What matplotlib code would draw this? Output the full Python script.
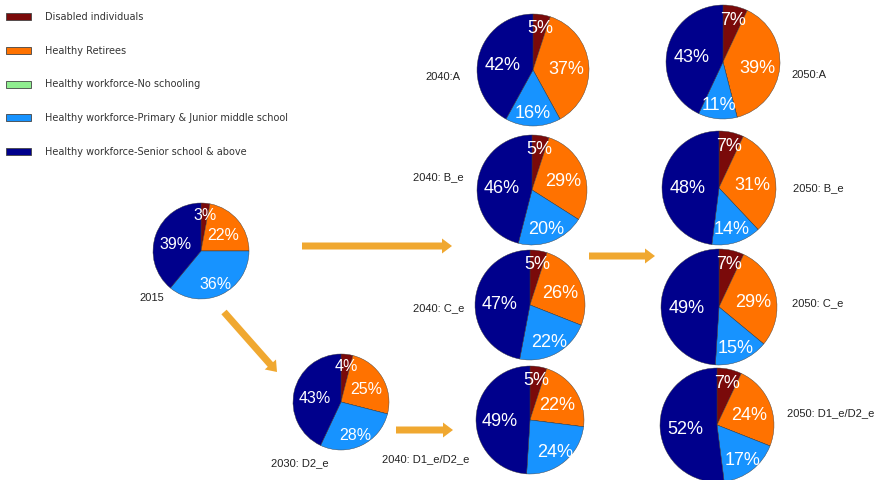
import matplotlib
matplotlib.use("Agg")
import matplotlib.pyplot as plt
from matplotlib.patches import Patch
import numpy as np

# --------------------------------------------------------------------
# DATA
# --------------------------------------------------------------------
categories = ["Disabled individuals",
              "Healthy Retirees",
              "Healthy workforce-No schooling",
              "Healthy workforce-Primary & Junior middle school",
              "Healthy workforce-Senior school & above"]
colors = ["#7a0a0a", "#ff7200", "#90ee90", "#1793ff", "#00008c"]

scenarios = ["2015", "2030: D2_e",
             "2040:A", "2040: B_e", "2040: C_e", "2040: D1_e/D2_e",
             "2050:A", "2050: B_e", "2050: C_e", "2050: D1_e/D2_e"]
disabled  = [3, 4, 5, 5, 5, 5, 7, 7, 7, 7]
retirees  = [22, 25, 37, 29, 26, 22, 39, 31, 29, 24]
no_school = [0, 0, 0, 0, 0, 0, 0, 0, 0, 0]
primary   = [36, 28, 16, 20, 22, 24, 11, 14, 15, 17]
senior    = [39, 43, 42, 46, 47, 49, 43, 48, 49, 52]

# --------------------------------------------------------------------
# LAYOUT (pixel coordinates, y from top)
# --------------------------------------------------------------------
W, H = 887, 480
centers = [(201, 251), (341, 402),
           (533, 70), (532, 190), (530, 305), (530, 420),
           (723, 62), (719, 188), (719, 307), (717, 425)]
radii = [48, 48, 56, 55, 55, 54, 57, 57, 58, 57]
pct_size = [11.5, 11.5, 13, 13, 13, 13, 13, 13, 13, 13]
# label anchor (left, vertical centre)
label_pos = [(139, 298), (271, 463),
             (425, 77), (413, 177), (413, 308), (382, 459),
             (791, 75), (793, 188), (792, 303), (787, 413)]
# distance of the percentage text from the centre, per category
pct_dist = [0.8, 0.6, 0.0, 0.72, 0.56]

arrows = [((302, 246), (452, 246)),
          ((589, 256), (655, 256)),
          ((224, 312), (277, 372)),
          ((396, 430), (453, 430))]
arrow_color = "#f0a830"

# --------------------------------------------------------------------
# FIGURE
# --------------------------------------------------------------------
fig = plt.figure(figsize=(8.87, 4.80), dpi=100)
ax = fig.add_axes([0, 0, 1, 1])

for i in range(len(scenarios)):
    vals = [disabled[i], retirees[i], no_school[i], primary[i], senior[i]]
    cx, cy = centers[i]
    r = radii[i]
    wedges, _ = ax.pie(vals, colors=colors, startangle=90, counterclock=False,
                       center=(cx, H - cy), radius=r, frame=True,
                       wedgeprops=dict(edgecolor="#3a3a3a", linewidth=0.3))
    for k, w in enumerate(wedges):
        if vals[k] == 0:
            continue
        mid = np.deg2rad((w.theta1 + w.theta2) / 2.0)
        d = pct_dist[k] * r
        tx = cx + d * np.cos(mid)
        ty = H - cy + d * np.sin(mid) - 0.05 * r
        ax.text(tx, ty, "%d%%" % vals[k], color="white", fontsize=pct_size[i],
                family="Liberation Sans", ha="center", va="center")
    lx, ly = label_pos[i]
    ax.text(lx, H - ly, scenarios[i], fontsize=8, family="Liberation Sans",
            color="#222222", ha="left", va="center")

# --------------------------------------------------------------------
# Arrows
# --------------------------------------------------------------------
for (x0, y0), (x1, y1) in arrows:
    dx, dy = x1 - x0, -(y1 - y0)
    ax.arrow(x0, H - y0, dx, dy, width=7, head_width=15, head_length=10,
             length_includes_head=True, color=arrow_color, linewidth=0)

ax.set_xlim(0, W)
ax.set_ylim(0, H)
ax.set_aspect("equal")
ax.axis("off")

# --------------------------------------------------------------------
# Legend
# --------------------------------------------------------------------
handles = [Patch(facecolor=c, edgecolor="#444444", linewidth=0.6) for c in colors]
leg = fig.legend(handles, categories, loc="upper left",
                 bbox_to_anchor=(0.0, 1.0 - 6.0 / H), frameon=False,
                 prop=dict(family="DejaVu Sans", size=7),
                 handlelength=2.6, handleheight=0.75, handletextpad=1.4,
                 labelspacing=2.45, borderaxespad=0.0, borderpad=0.6)
for t in leg.get_texts():
    t.set_color("#333333")

fig.savefig("out.png", dpi=100)
